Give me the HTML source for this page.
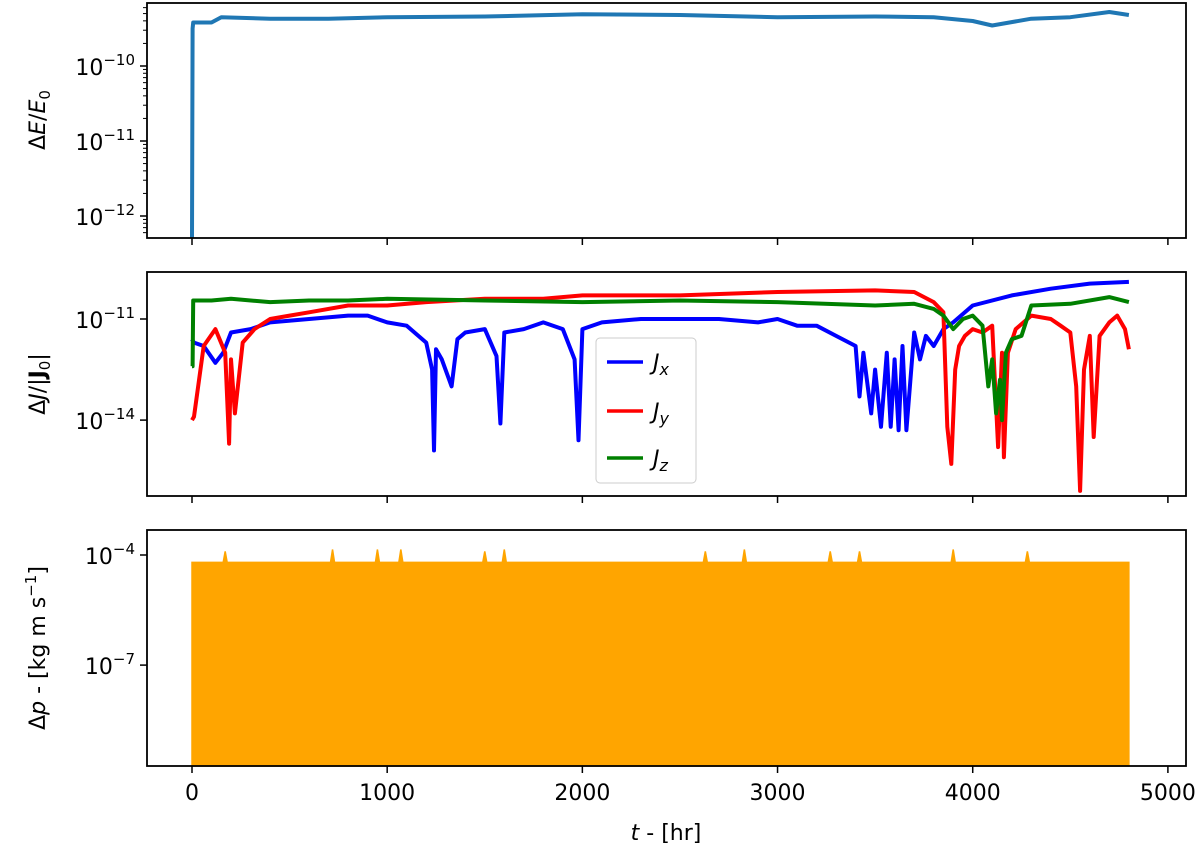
<!DOCTYPE html>
<html><head><meta charset="utf-8"><style>
body{margin:0;background:#fff;}
svg text{font-family:"DejaVu Sans","Liberation Sans",sans-serif;fill:#000;}
</style></head><body>
<svg id="c" width="1200" height="853" viewBox="0 0 1200 853"></svg>
<script>
// ---- data ----
const xTicks=[0,1000,2000,3000,4000,5000];
const eT=[0,3,6,100,150,400,700,1000,1500,2000,2500,3000,3500,3800,4000,4100,4300,4500,4700,4800];
const eV=[-12.3,-9.5,-9.42,-9.42,-9.35,-9.37,-9.37,-9.35,-9.34,-9.31,-9.32,-9.35,-9.34,-9.35,-9.4,-9.46,-9.37,-9.35,-9.28,-9.32];
const eTicks=[-10,-11,-12];
const jxT=[0,10,60,120,160,200,300,400,600,800,900,1000,1100,1200,1230,1240,1250,1280,1330,1360,1400,1500,1560,1580,1600,1700,1800,1900,1960,1980,2000,2100,2300,2500,2700,2900,3000,3100,3200,3300,3400,3420,3440,3480,3500,3530,3560,3580,3600,3620,3640,3660,3700,3730,3760,3800,3850,3900,4000,4200,4400,4600,4800];
const jxV=[-11.6,-11.7,-11.8,-12.3,-12.0,-11.4,-11.3,-11.1,-11.0,-10.9,-10.9,-11.1,-11.2,-11.7,-12.5,-14.9,-11.9,-12.2,-13.0,-11.6,-11.4,-11.3,-12.1,-14.1,-11.4,-11.3,-11.1,-11.3,-12.2,-14.6,-11.3,-11.1,-11.0,-11.0,-11.0,-11.1,-11.0,-11.2,-11.2,-11.5,-11.8,-13.3,-12.0,-13.8,-12.5,-14.2,-12.0,-14.2,-12.2,-14.3,-11.8,-14.3,-11.4,-12.2,-11.5,-11.8,-11.3,-11.1,-10.6,-10.3,-10.1,-9.95,-9.9];
const jyT=[0,10,60,120,170,190,200,220,260,320,400,500,600,800,1000,1200,1500,1800,2000,2500,3000,3500,3700,3800,3850,3870,3890,3910,3930,3960,4000,4050,4100,4130,4150,4160,4180,4220,4300,4400,4450,4500,4530,4550,4570,4600,4620,4650,4700,4740,4780,4800];
const jyV=[-14.0,-13.9,-11.8,-11.3,-12.0,-14.7,-12.2,-13.8,-11.7,-11.3,-11.0,-10.9,-10.8,-10.6,-10.6,-10.5,-10.4,-10.4,-10.3,-10.3,-10.2,-10.15,-10.2,-10.5,-10.8,-14.2,-15.3,-12.5,-11.8,-11.5,-11.3,-11.4,-11.2,-14.8,-12.0,-15.1,-12.0,-11.3,-10.9,-11.0,-11.2,-11.4,-13.0,-16.1,-12.5,-11.5,-14.5,-11.5,-11.1,-10.9,-11.3,-11.9];
const jzT=[0,3,6,100,200,400,600,800,1000,1500,2000,2500,3000,3500,3700,3800,3850,3900,3950,4000,4050,4080,4100,4120,4140,4150,4170,4200,4250,4300,4500,4700,4800];
const jzV=[-12.4,-12.4,-10.45,-10.45,-10.4,-10.5,-10.45,-10.45,-10.4,-10.45,-10.5,-10.45,-10.5,-10.6,-10.55,-10.7,-10.9,-11.3,-11.0,-10.9,-11.2,-13.0,-12.2,-13.8,-12.8,-14.0,-12.0,-11.6,-11.5,-10.6,-10.55,-10.35,-10.5];
const jTicks=[-11,-14];
const pBase=-4.2;
const pSpikeT=[170,720,950,1070,1500,1600,2630,2830,3270,3420,3900,4280];
const pSpikeV=[-3.9,-3.85,-3.85,-3.85,-3.9,-3.85,-3.9,-3.85,-3.9,-3.9,-3.85,-3.9];
const pTicks=[-4,-7];
// ---- layout ----
const svg=document.getElementById('c');const NS='http://www.w3.org/2000/svg';
const L=147,R=1186;
const X=t=>192+t*0.19518;
const panels=[{top:3,bot:238,y:v=>66-(v+10)*75},{top:272,bot:496,y:v=>319-(v+11)*33.7},{top:530,bot:766,y:v=>555-(v+4)*36.7}];
function el(tag,a,p){const e=document.createElementNS(NS,tag);for(const k in a)e.setAttribute(k,a[k]);(p||svg).appendChild(e);return e;}
function line(T,V,P,color,name){let d=T.map((t,i)=>(i?'L':'M')+X(t).toFixed(1)+','+Math.max(P.top,Math.min(P.bot,P.y(V[i]))).toFixed(1)).join('');
 const e=el('path',{d:d,fill:'none',stroke:color,'stroke-width':4,'stroke-linejoin':'round'});
 
 }
function ytick(P,v,label,name){const y=P.y(v);el('line',{x1:L-7,x2:L,y1:y,y2:y,stroke:'#000','stroke-width':1.5});
 const t=el('text',{x:L-12,y:y+9,'text-anchor':'end','font-size':22});t.innerHTML='10<tspan dy="-10" font-size="15">−'+label+'</tspan>';
 
 }
function frame(P,name){const r=el('rect',{x:L,y:P.top,width:R-L,height:P.bot-P.top,fill:'none',stroke:'#000','stroke-width':1.8});
 
 
 xTicks.forEach(t=>el('line',{x1:X(t),x2:X(t),y1:P.bot,y2:P.bot+7,stroke:'#000','stroke-width':1.5}));}
// panel 1
line(eT,eV,panels[0],'#1f77b4','energy-error-line');
for(let d=-13;d<=-9;d++)for(let k=2;k<10;k++){const y=panels[0].y(d+Math.log10(k));if(y>panels[0].top&&y<panels[0].bot)el('line',{x1:L-4,x2:L,y1:y,y2:y,stroke:'#000','stroke-width':1});}
eTicks.forEach(v=>ytick(panels[0],v,String(-v),'energy-y-tick'));
frame(panels[0],'energy-axes');
// panel 2
line(jxT,jxV,panels[1],'#0000ff','jx-line');
line(jyT,jyV,panels[1],'#ff0000','jy-line');
line(jzT,jzV,panels[1],'#008000','jz-line');
jTicks.forEach(v=>ytick(panels[1],v,String(-v),'momentum-y-tick'));
frame(panels[1],'angular-momentum-axes');
// legend
const lg=el('g',{});
el('rect',{x:596,y:338,width:100,height:145,rx:4,fill:'rgba(255,255,255,0.85)',stroke:'#ccc'},lg);
[['#0000ff','x',362],['#ff0000','y',411],['#008000','z',458]].forEach(([c,s,y])=>{
 el('line',{x1:607,x2:643,y1:y,y2:y,stroke:c,'stroke-width':3.5},lg);
 const t=el('text',{x:653,y:y+8,'font-size':22,'font-style':'italic'},lg);t.innerHTML='J<tspan dy="5" font-size="16">'+s+'</tspan>';
 
 });
// panel 3
(function(){const P=panels[2];let d='M'+X(0)+','+P.bot+'L'+X(0)+','+P.y(pBase);
 pSpikeT.forEach((t,i)=>{d+='L'+(X(t)-2)+','+P.y(pBase)+'L'+X(t)+','+P.y(pSpikeV[i])+'L'+(X(t)+2)+','+P.y(pBase);});
 d+='L'+X(4800)+','+P.y(pBase)+'L'+X(4800)+','+P.bot+'Z';
 const e=el('path',{d:d,fill:'#ffa500',stroke:'#ffa500','stroke-width':1.5});
 
 })();
pTicks.forEach(v=>ytick(panels[2],v,String(-v),'linear-momentum-y-tick'));
frame(panels[2],'linear-momentum-axes');
xTicks.forEach(t=>{const e=el('text',{x:X(t),y:800,'text-anchor':'middle','font-size':22});e.textContent=t;
 
 });
// axis titles
function ytitle(x,y,html,name){const t=el('text',{x:x,y:y,'text-anchor':'middle','font-size':22,transform:'rotate(-90 '+x+' '+y+')'});t.innerHTML=html;
 
 }
ytitle(45,120,'Δ<tspan font-style="italic">E</tspan>/<tspan font-style="italic">E</tspan><tspan dy="5" font-size="15">0</tspan>','energy-y-title');
ytitle(45,384,'Δ<tspan font-style="italic">J</tspan>/|<tspan font-weight="bold">J</tspan><tspan dy="5" font-size="15">0</tspan><tspan dy="-5">|</tspan>','angular-momentum-y-title');
ytitle(45,648,'Δ<tspan font-style="italic">p</tspan> - [kg m s<tspan dy="-9" font-size="15">−1</tspan><tspan dy="9">]</tspan>','linear-momentum-y-title');
const xt=el('text',{x:666,y:840,'text-anchor':'middle','font-size':22});xt.innerHTML='<tspan font-style="italic">t</tspan> - [hr]';


</script>
</body></html>
